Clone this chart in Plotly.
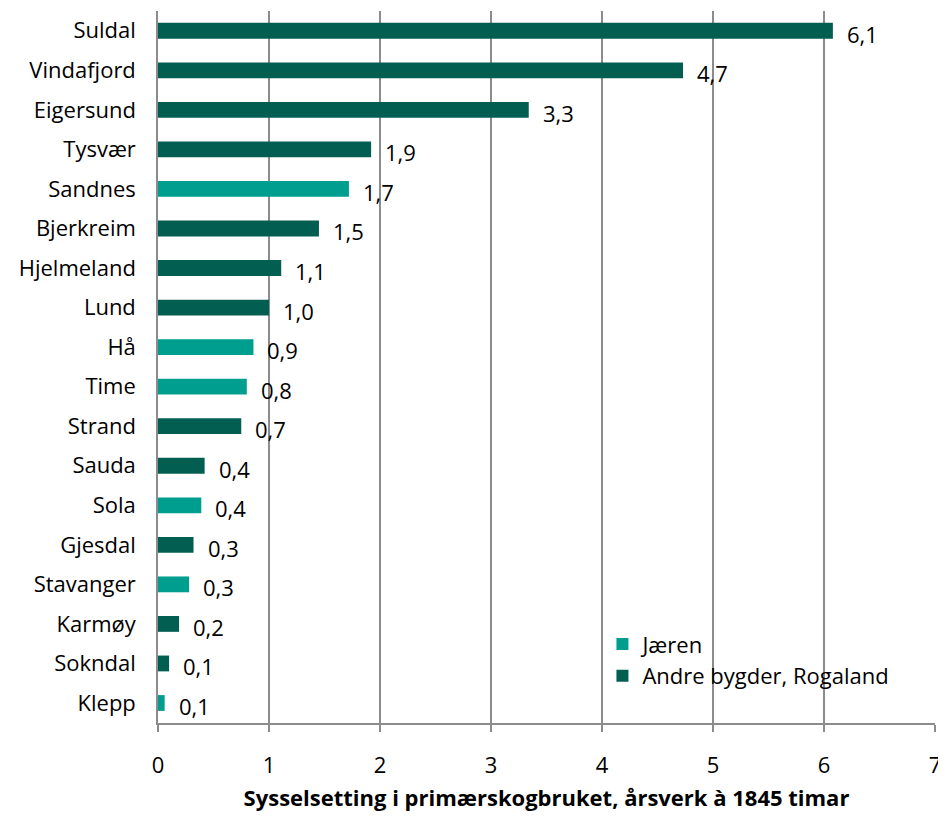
import plotly.graph_objects as go

categories = ["Suldal", "Vindafjord", "Eigersund", "Tysvær", "Sandnes", "Bjerkreim",
              "Hjelmeland", "Lund", "Hå", "Time", "Strand", "Sauda", "Sola", "Gjesdal",
              "Stavanger", "Karmøy", "Sokndal", "Klepp"]
values = [6.08, 4.73, 3.34, 1.92, 1.72, 1.45, 1.11, 1.00, 0.86, 0.80, 0.75, 0.42,
          0.39, 0.32, 0.28, 0.19, 0.10, 0.06]
labels = ["6,1", "4,7", "3,3", "1,9", "1,7", "1,5", "1,1", "1,0", "0,9", "0,8", "0,7",
          "0,4", "0,4", "0,3", "0,3", "0,2", "0,1", "0,1"]
region = ["A", "A", "A", "A", "J", "A", "A", "A", "J", "J", "A", "A", "J", "A",
          "J", "A", "A", "J"]
series_names = {"J": "Jæren", "A": "Andre bygder, Rogaland"}
series_colors = {"J": "#009E8F", "A": "#035E52"}
x_ticks = [0, 1, 2, 3, 4, 5, 6, 7]

FONT = "Open Sans"
FS = 22
fig = go.Figure()
for key in ["J", "A"]:
    ys = [c for c, r in zip(categories, region) if r == key]
    xs = [v for v, r in zip(values, region) if r == key]
    fig.add_trace(go.Bar(
        y=ys, x=xs, orientation="h", name=series_names[key],
        marker=dict(color=series_colors[key], line=dict(width=0)),
        width=0.4,
    ))

for c, v, t in zip(categories, values, labels):
    fig.add_annotation(x=v, y=c, text=t, showarrow=False, xanchor="left",
                       xshift=12, yshift=-3, font=dict(family=FONT, size=FS, color="#000000"))

fig.update_layout(
    width=938, height=808,
    margin=dict(l=150, r=11, t=3, b=93),
    plot_bgcolor="white", paper_bgcolor="white",
    barmode="overlay",
    font=dict(family=FONT, size=FS, color="#000000"),
    legend=dict(x=0.572, y=0.14, xanchor="left", yanchor="top",
                bgcolor="rgba(0,0,0,0)", font=dict(family=FONT, size=FS),
                traceorder="normal", itemwidth=30, tracegroupgap=0),
    xaxis=dict(range=[0, 7], tickvals=x_ticks, ticktext=[str(t) for t in x_ticks],
               showgrid=True, gridcolor="#8C8C8C", gridwidth=1.5,
               showline=True, linecolor="#8C8C8C", linewidth=1.5,
               ticks="outside", ticklen=7, tickcolor="#8C8C8C", tickwidth=1.5,
               zeroline=False, ticklabelstandoff=15,
               title=dict(text="<b>Sysselsetting i primærskogbruket, årsverk à 1845 timar</b>",
                          font=dict(family=FONT, size=FS), standoff=12),
               tickfont=dict(family=FONT, size=FS)),
    yaxis=dict(categoryorder="array", categoryarray=categories[::-1],
               showline=True, linecolor="#8C8C8C", linewidth=1.5,
               showgrid=False, ticks="", ticklabelstandoff=16,
               tickfont=dict(family=FONT, size=FS)),
)

fig.write_html("out.html")
